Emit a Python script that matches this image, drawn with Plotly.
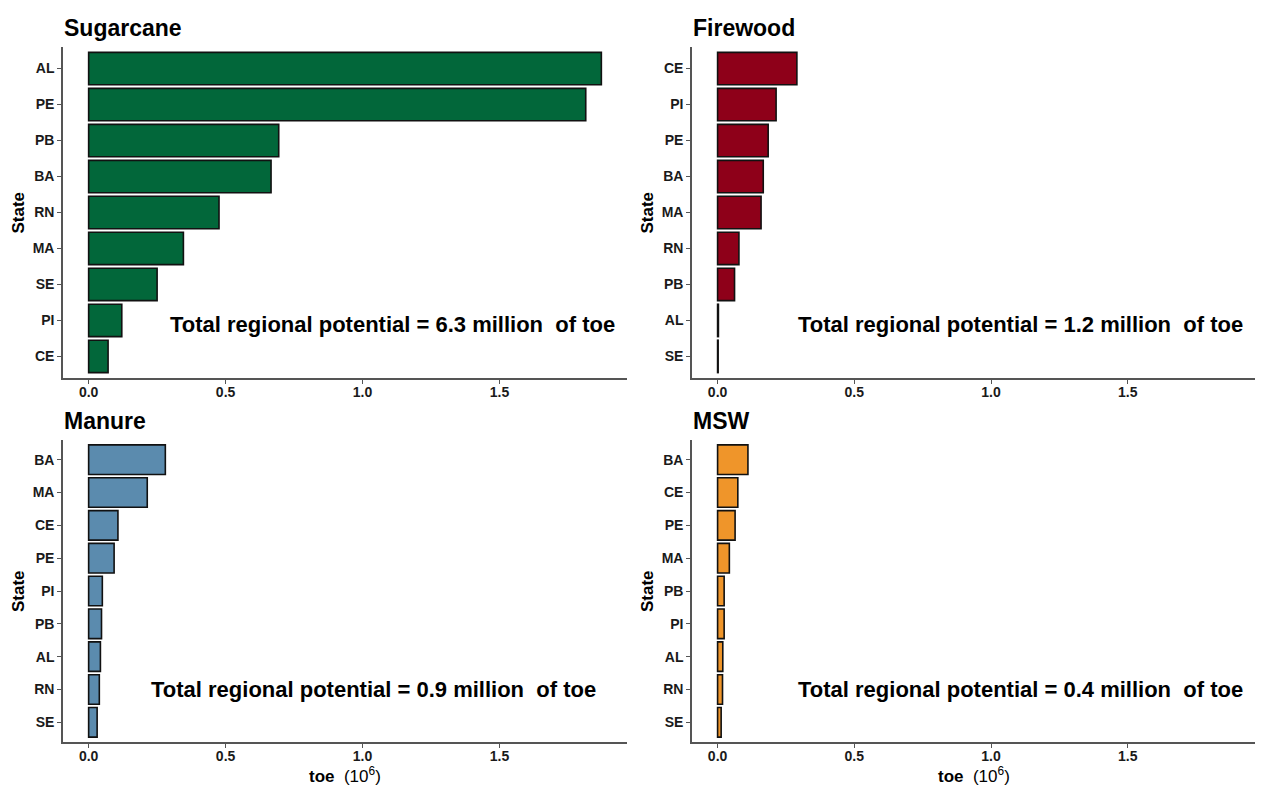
import plotly.graph_objects as go

W, H = 1263, 787

panel_titles = ["Sugarcane", "Firewood", "Manure", "MSW"]

sugarcane_states = ["AL", "PE", "PB", "BA", "RN", "MA", "SE", "PI", "CE"]
sugarcane_values = [1.872, 1.815, 0.694, 0.666, 0.476, 0.346, 0.250, 0.121, 0.071]

firewood_states = ["CE", "PI", "PE", "BA", "MA", "RN", "PB", "AL", "SE"]
firewood_values = [0.290, 0.214, 0.185, 0.167, 0.159, 0.078, 0.062, 0.003, 0.002]

manure_states = ["BA", "MA", "CE", "PE", "PI", "PB", "AL", "RN", "SE"]
manure_values = [0.280, 0.214, 0.107, 0.093, 0.050, 0.047, 0.043, 0.039, 0.031]

msw_states = ["BA", "CE", "PE", "MA", "PB", "PI", "AL", "RN", "SE"]
msw_values = [0.111, 0.074, 0.064, 0.043, 0.024, 0.024, 0.019, 0.018, 0.013]

totals = ["6.3", "1.2", "0.9", "0.4"]
colors = ["#02673A", "#8E0019", "#5B8BAE", "#EF952A"]

x_ticks = [0.0, 0.5, 1.0, 1.5]
x_tick_labels = ["0.0", "0.5", "1.0", "1.5"]

FONT = "Liberation Sans, Arial, sans-serif"
AXC = "#555555"

# panel pixel boxes: (left, right, top, bottom)
boxes = [(63, 627, 47, 378), (692, 1255, 47, 378), (63, 627, 440, 742), (692, 1255, 440, 742)]

data = [(sugarcane_states, sugarcane_values), (firewood_states, firewood_values),
        (manure_states, manure_values), (msw_states, msw_values)]

fig = go.Figure()
layout = dict(width=W, height=H, margin=dict(l=0, r=0, t=0, b=0),
              paper_bgcolor="white", plot_bgcolor="white", showlegend=False)
annotations = []

xmax = max(max(v) for _, v in data)
xr = [-0.05 * xmax, xmax * 1.05]

for i, ((states, vals), box) in enumerate(zip(data, boxes)):
    n = i + 1
    xa = "x" if n == 1 else f"x{n}"
    ya = "y" if n == 1 else f"y{n}"
    fig.add_trace(go.Bar(
        x=vals, y=states, orientation="h", xaxis=xa, yaxis=ya,
        width=0.9, marker=dict(color=colors[i], line=dict(color="#111111", width=1.6)),
        hoverinfo="x+y"))
    l, r, t, b = box
    xkey = "xaxis" if n == 1 else f"xaxis{n}"
    ykey = "yaxis" if n == 1 else f"yaxis{n}"
    layout[xkey] = dict(domain=[l / W, r / W], anchor=ya, range=xr,
                        tickvals=x_ticks, ticktext=x_tick_labels,
                        showgrid=False, zeroline=False, showline=True,
                        linecolor=AXC, linewidth=1.5, ticks="outside",
                        ticklen=4, tickcolor=AXC, tickwidth=1, ticklabelstandoff=-4,
                        tickfont=dict(family=FONT, size=14, color="#1a1a1a", weight="bold"))
    layout[ykey] = dict(domain=[1 - b / H, 1 - t / H], anchor=xa,
                        type="category", categoryorder="array", categoryarray=states,
                        range=[len(states) - 0.4, -0.6],
                        showgrid=False, zeroline=False, showline=True,
                        linecolor=AXC, linewidth=1.5, ticks="outside",
                        ticklen=4, tickcolor=AXC, tickwidth=1,
                        tickfont=dict(family=FONT, size=14, color="#1a1a1a", weight="bold"))
    # panel title
    annotations.append(dict(text="<b>" + panel_titles[i] + "</b>", xref="paper", yref="paper",
                            x=(l - 1) / W, y=1 - (t - 19) / H, xanchor="left", yanchor="middle",
                            showarrow=False, font=dict(family=FONT, size=23, color="black")))
    # State label
    annotations.append(dict(text="<b>State</b>", xref="paper", yref="paper",
                            x=(l - 45) / W, y=1 - ((t + b) / 2) / H, textangle=-90,
                            xanchor="center", yanchor="middle", showarrow=False,
                            font=dict(family=FONT, size=17, color="black")))
    # total annotation
    ann_left = [168, 796, 149, 796][i]
    ann_y = [324, 324, 689, 689][i]
    annotations.append(dict(text="<b>Total regional potential = " + totals[i] + " million\u00a0 of toe</b>",
                            xref="paper", yref="paper", x=ann_left / W, y=1 - ann_y / H,
                            xanchor="left", yanchor="middle", showarrow=False,
                            font=dict(family=FONT, size=22, color="black")))
    if i >= 2:
        annotations.append(dict(text="<b>toe</b>  (10<sup>6</sup>)", xref="paper", yref="paper",
                                x=((l + r) / 2) / W, y=1 - 775 / H, xanchor="center", yanchor="middle",
                                showarrow=False, font=dict(family=FONT, size=17, color="black")))

layout["annotations"] = annotations
fig.update_layout(**layout)
fig.write_html("out.html", config={"displayModeBar": False},
               post_script="document.body.style.margin='0';document.body.style.padding='0';document.body.style.overflow='hidden';")
